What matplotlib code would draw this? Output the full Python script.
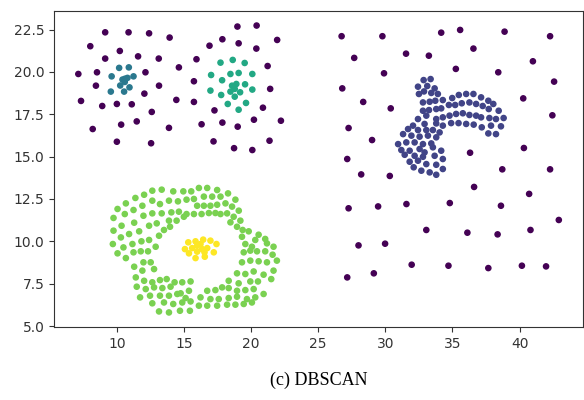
import numpy as np
import matplotlib.pyplot as plt

# points, grouped by DBSCAN label (-1 = noise)
noise_pts = [
    (9.13, 22.34), (10.87, 22.34), (12.40, 22.28), (13.93, 22.03), (8.02, 21.52),
    (10.22, 21.24), (9.13, 20.79), (11.58, 20.92), (13.12, 20.79), (14.62, 20.27),
    (7.13, 19.88), (8.52, 19.98), (12.13, 19.98), (8.44, 19.19), (13.14, 19.19),
    (12.05, 18.72), (7.33, 18.29), (8.91, 17.99), (10.0, 18.11), (11.11, 18.09),
    (14.43, 18.35), (12.60, 17.64), (10.32, 16.89), (11.48, 17.08), (8.20, 16.63),
    (13.88, 16.70), (10.0, 15.88), (12.55, 15.79),
    (18.98, 22.68), (20.41, 22.74), (17.86, 21.93), (19.07, 21.69), (16.90, 21.55),
    (20.39, 21.38), (21.94, 21.89), (15.93, 20.75), (21.23, 20.35), (15.74, 19.45),
    (21.42, 19.0), (15.74, 18.23), (17.27, 17.73), (20.88, 17.89), (16.31, 16.91),
    (17.86, 17.01), (19.0, 16.77), (20.21, 17.18), (22.22, 17.12), (17.20, 15.90),
    (18.73, 15.50), (20.09, 15.39), (21.37, 15.94),
    (26.74, 22.11), (29.78, 22.11), (34.16, 22.32), (35.57, 22.48), (38.88, 22.38),
    (42.27, 22.11), (27.68, 20.83), (31.54, 21.08), (33.24, 20.96), (36.56, 21.38),
    (40.99, 20.63), (29.90, 19.92), (35.25, 20.18), (38.41, 19.98), (26.79, 19.03),
    (42.57, 19.43), (28.35, 18.23), (30.40, 17.85), (40.27, 18.44), (27.26, 16.69),
    (42.44, 17.44), (29.01, 15.98),
    (27.16, 14.86), (36.31, 15.23), (40.32, 15.51), (28.20, 13.95), (30.33, 13.86),
    (38.71, 14.25), (42.27, 14.25), (36.61, 13.21), (40.71, 12.80), (27.26, 11.95),
    (29.46, 12.06), (31.57, 12.20), (34.80, 12.26), (38.61, 12.10), (42.92, 11.26),
    (33.05, 10.67), (36.11, 10.51), (38.36, 10.41), (40.81, 10.67), (28.0, 9.76),
    (29.98, 9.86), (31.96, 8.62), (34.70, 8.56), (37.67, 8.42), (40.17, 8.56),
    (41.97, 8.52), (27.16, 7.87), (29.14, 8.11),
]

blob_pts = [
    (32.85, 19.52), (33.37, 19.58), (32.43, 19.13), (33.12, 19.17), (33.67, 19.03),
    (32.50, 18.70), (32.88, 18.85), (33.42, 18.76), (33.91, 18.70), (32.80, 18.20),
    (33.30, 18.24), (33.72, 18.30), (34.28, 18.34), (34.98, 18.46), (35.47, 18.64),
    (36.02, 18.70), (36.56, 18.70), (37.13, 18.50), (37.67, 18.30), (38.04, 18.11),
    (32.80, 17.71), (33.25, 17.75), (33.79, 17.81), (34.16, 17.85), (34.73, 18.05),
    (35.20, 18.05), (35.69, 18.15), (36.26, 18.20), (36.76, 18.11), (37.25, 17.99),
    (37.70, 17.81), (38.44, 17.71),
    (32.43, 17.22), (33.05, 17.42), (33.79, 17.22), (34.28, 17.32), (34.78, 17.42),
    (35.27, 17.52), (35.77, 17.56), (36.26, 17.46), (36.76, 17.42), (37.13, 17.32),
    (37.75, 17.28), (38.24, 17.22), (38.81, 17.28),
    (32.06, 16.83), (32.92, 16.93), (33.79, 16.96), (34.28, 16.83), (34.90, 16.98),
    (35.45, 16.98), (36.02, 16.93), (36.58, 16.89), (37.18, 16.73), (37.87, 16.83),
    (38.61, 16.79), (37.67, 16.37), (38.24, 16.33),
    (31.69, 16.63), (32.43, 16.57), (33.05, 16.57), (33.54, 16.57), (34.04, 16.43),
    (31.32, 16.33), (31.94, 16.24), (32.55, 16.18), (33.17, 16.24), (33.79, 16.14),
    (30.95, 15.74), (31.56, 15.84), (32.18, 15.84), (32.80, 15.74), (33.42, 15.78),
    (31.19, 15.39), (31.81, 15.35), (32.55, 15.45), (32.92, 15.25), (33.54, 15.55),
    (34.16, 15.35), (31.44, 15.11), (32.18, 15.05), (32.80, 14.99), (33.67, 15.05),
    (34.28, 14.86), (31.81, 14.70), (32.43, 14.76), (33.05, 14.56), (33.79, 14.52),
    (32.11, 14.37), (32.68, 14.17), (33.30, 14.07), (33.79, 13.93), (34.28, 14.27),
]

small_pts = [
    (10.17, 20.24), (10.89, 20.27), (9.61, 19.74), (11.24, 19.74), (10.42, 19.55),
    (10.79, 19.65), (10.59, 19.41), (10.25, 19.20), (10.94, 19.09), (9.55, 18.84),
    (10.54, 18.84), (10.60, 19.60),
]

mid_pts = [
    (17.72, 20.55), (18.63, 20.71), (19.52, 20.53), (17.02, 19.82), (17.84, 19.51),
    (18.46, 19.88), (19.07, 19.94), (20.09, 19.88), (16.97, 18.90), (17.77, 18.64),
    (18.58, 19.19), (18.90, 19.29), (19.55, 19.27), (18.46, 18.84), (18.78, 19.00),
    (19.18, 18.80), (18.78, 18.54), (20.09, 18.96), (18.26, 18.11), (19.62, 18.17),
    (19.07, 17.77),
]

ring_pts = [
    (12.64, 12.99), (13.34, 13.05), (14.20, 12.95), (14.95, 12.95), (15.54, 12.95),
    (12.03, 12.75), (11.38, 12.56), (10.67, 12.24), (12.64, 12.40), (13.21, 12.20),
    (13.88, 12.40), (14.55, 12.36), (15.19, 12.46), (15.74, 12.50), (10.05, 11.91),
    (11.24, 11.85), (11.90, 12.10), (10.59, 11.61), (11.98, 11.51), (12.64, 11.65),
    (13.34, 11.65), (14.06, 11.71), (14.62, 11.75), (15.19, 11.61), (15.74, 11.61),
    (9.75, 11.38), (11.29, 11.10), (12.40, 10.92), (12.97, 11.06), (13.88, 11.22),
    (14.45, 11.22), (14.99, 11.45), (9.75, 10.63), (10.35, 10.92), (10.91, 10.43),
    (11.66, 10.59), (13.51, 10.67), (13.96, 10.86), (13.14, 10.33), (10.30, 10.23),
    (9.70, 9.84), (10.49, 9.64), (11.16, 9.84), (11.83, 10.0), (12.40, 10.08),
    (10.05, 9.29), (10.67, 9.01), (11.24, 9.35), (11.78, 9.41), (12.32, 9.41),
    (12.89, 9.68), (11.29, 8.50), (11.98, 8.76), (12.52, 8.76), (11.90, 8.27),
    (12.77, 8.36), (11.41, 7.87), (12.03, 7.67), (12.64, 7.58), (13.21, 7.71),
    (13.71, 7.77), (14.30, 7.58), (14.87, 7.58), (15.49, 7.63), (11.48, 7.32),
    (12.15, 7.18), (12.77, 7.28), (13.39, 7.24), (14.0, 7.32), (14.75, 6.93),
    (15.37, 7.08), (11.73, 6.69), (12.47, 6.79), (13.21, 6.79), (13.88, 6.79),
    (14.50, 6.89), (15.12, 6.65), (12.64, 6.34), (13.51, 6.39), (14.20, 6.30),
    (14.87, 6.39), (15.49, 6.45), (13.14, 5.86), (13.88, 5.80), (14.70, 5.90),
    (15.44, 5.90),
    (16.11, 13.15), (16.73, 13.15), (17.47, 13.03), (18.28, 12.83), (18.83, 12.46),
    (16.48, 12.64), (17.10, 12.64), (17.72, 12.64), (15.98, 12.10), (16.48, 12.10),
    (16.97, 12.10), (17.47, 12.16), (18.09, 12.24), (18.58, 12.05), (19.08, 11.81),
    (16.31, 11.61), (16.85, 11.67), (17.34, 11.67), (17.72, 11.61), (18.21, 11.65),
    (18.70, 11.45), (19.20, 11.22), (18.46, 11.12), (18.95, 10.86), (19.37, 10.67),
    (19.82, 10.59), (19.32, 10.27), (20.56, 10.39), (21.05, 10.14), (20.31, 10.08),
    (19.57, 9.84), (20.06, 9.68), (21.18, 9.88), (21.67, 9.68), (19.45, 9.35),
    (19.94, 9.45), (20.44, 9.41), (21.05, 9.41), (21.60, 9.21), (19.32, 8.76),
    (19.94, 8.86), (20.56, 8.82), (21.18, 8.76), (21.92, 8.86), (18.95, 8.11),
    (19.57, 8.07), (20.19, 8.22), (20.93, 8.03), (21.67, 8.27), (18.33, 7.67),
    (19.07, 7.52), (19.94, 7.63), (20.51, 7.63), (21.50, 7.77), (16.73, 7.08),
    (17.34, 7.12), (17.84, 7.28), (18.33, 7.24), (18.95, 7.08), (19.57, 7.12),
    (20.19, 7.18), (20.93, 6.89), (16.23, 6.69), (16.97, 6.59), (17.59, 6.59),
    (18.33, 6.65), (18.95, 6.73), (19.69, 6.59), (20.31, 6.69), (16.11, 6.20),
    (16.73, 6.20), (17.47, 6.20), (18.21, 6.26), (18.83, 6.26), (19.45, 6.30),
    (20.06, 6.39),
]

core_pts = [
    (15.32, 9.94), (15.86, 10.0), (16.43, 10.10), (16.97, 10.04), (17.42, 9.84),
    (15.07, 9.54), (15.61, 9.60), (15.98, 9.74), (16.36, 9.54), (16.73, 9.60),
    (17.22, 9.35), (15.37, 9.29), (15.98, 9.39), (16.53, 9.35), (15.86, 9.01),
    (16.55, 9.09), (16.23, 9.84),
]

groups = [(-1, noise_pts), (0, blob_pts), (1, small_pts), (2, mid_pts), (3, ring_pts), (4, core_pts)]

xs, ys, labels = [], [], []
for lab, pts in groups:
    for x, y in pts:
        xs.append(x)
        ys.append(y)
        labels.append(lab)
xs = np.array(xs)
ys = np.array(ys)
labels = np.array(labels)

fig = plt.figure(figsize=(5.84, 4.0), dpi=100)
ax = fig.add_axes([0.093, 0.183, 0.905, 0.789])
ax.scatter(xs, ys, c=labels, cmap="viridis", s=14)
ax.set_xticks([10, 15, 20, 25, 30, 35, 40])
ax.set_yticks([5.0, 7.5, 10.0, 12.5, 15.0, 17.5, 20.0, 22.5])
for sp in ax.spines.values():
    sp.set_color("#333333")
ax.tick_params(colors="#333333")

fig.text(0.546, 0.05, "(c) DBSCAN", ha="center", va="center",
         family="Liberation Serif", fontsize=13)

fig.savefig("out.png", dpi=100)
